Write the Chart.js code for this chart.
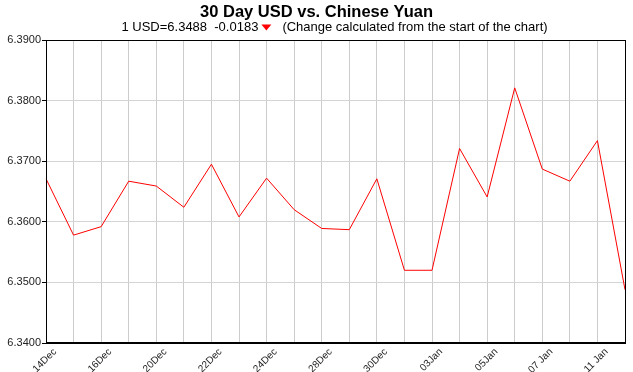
<!doctype html>
<html>
<head>
	<title>30 Day USD vs. Chinese Yuan</title>
	<script src="https://cdn.jsdelivr.net/npm/chart.js@4.4.1"></script>
	<style>
	* { margin: 0; padding: 0; }
	body { background: #fff; }
	.chartBox { width: 633px; height: 372px; position: relative; }
	</style>
</head>
<body>
	<div class="chartBox">
		<canvas id="canvas_rate"></canvas>
	</div>

<script type="text/javascript">
	// ---- data ----
	var dayLabels = [
		'14Dec','15Dec','16Dec','17Dec','20Dec','21Dec','22Dec','23Dec','24Dec','27Dec','28Dec',
		'29Dec','30Dec','31Dec','03Jan','04Jan','05Jan','06Jan','07 Jan','10Jan','11 Jan','12Jan'
	];
	var rates = [
		6.3671, 6.3578, 6.3592, 6.3667, 6.3659, 6.3624, 6.3695, 6.3608, 6.3672, 6.3620, 6.3589,
		6.3587, 6.3671, 6.3520, 6.3520, 6.3721, 6.3641, 6.3821, 6.3687, 6.3667, 6.3734, 6.3488
	];
	var yTicks = [6.34, 6.35, 6.36, 6.37, 6.38, 6.39];

	var titleText = '30 Day USD vs. Chinese Yuan';
	var lastRate = '6.3488';
	var rateChange = '-0.0183';

	var fontFamily = '"Liberation Sans", Arial, "DejaVu Sans", sans-serif';

	// title + subtitle with the little red arrow
	var headerPlugin = {
		id: 'header',
		afterDraw: function(chart) {
			var ctx = chart.ctx;
			var cx = chart.width / 2;
			ctx.save();
			ctx.textBaseline = 'middle';
			ctx.textAlign = 'center';
			ctx.fillStyle = '#000';
			ctx.font = 'bold 16.5px ' + fontFamily;
			ctx.fillText(titleText, cx, 12);

			var p1 = '1 USD=' + lastRate + '  ' + rateChange;
			var p3 = '(Change calculated from the start of the chart)';
			ctx.font = '13px ' + fontFamily;
			var w1 = ctx.measureText(p1).width;
			var w3 = ctx.measureText(p3).width;
			var triW = 10, gapA = 3, gapB = 11;
			// subtitle sits a bit right of centre in the original
			var x = cx + 18 - (w1 + gapA + triW + gapB + w3) / 2;
			ctx.textAlign = 'left';
			ctx.fillText(p1, x, 27);
			// arrow
			var tx = x + w1 + gapA;
			ctx.fillStyle = '#ff0000';
			ctx.beginPath();
			ctx.moveTo(tx, 24.5);
			ctx.lineTo(tx + triW, 24.5);
			ctx.lineTo(tx + triW / 2, 30.5);
			ctx.closePath();
			ctx.fill();
			ctx.fillStyle = '#000';
			ctx.fillText(p3, tx + triW + gapB, 27);
			ctx.restore();
		}
	};

	// black box round the plot
	var framePlugin = {
		id: 'frame',
		afterDraw: function(chart) {
			var a = chart.chartArea, ctx = chart.ctx;
			ctx.save();
			ctx.strokeStyle = '#000';
			ctx.lineWidth = 1;
			ctx.strokeRect(Math.round(a.left) + 0.5, Math.round(a.top) + 0.5,
				Math.round(a.right - a.left), Math.round(a.bottom - a.top) - 1);
			ctx.restore();
		}
	};

	var rate_config = {
		type: 'line',
		data: {
			labels: dayLabels,
			datasets: [{
				label: 'USD/CNY',
				data: rates,
				borderColor: '#ff0000',
				borderWidth: 1,
				pointRadius: 0,
				tension: 0,
				fill: false
			}]
		},
		options: {
			responsive: false,
			animation: false,
			layout: { padding: { top: 40, right: 8, left: 0, bottom: 0 } },
			scales: {
				x: {
					offset: false,
					grid: { color: '#cccccc', drawTicks: false },
					border: { color: '#000' },
					ticks: {
						autoSkip: false,
						minRotation: 45,
						maxRotation: 45,
						padding: 3,
						labelOffset: 9,
						color: '#222',
						font: { size: 10, family: fontFamily },
						callback: function(value, index) {
							return index % 2 === 0 ? dayLabels[index] : '';
						}
					},
					afterFit: function(scale) {
						scale.height = 29;
						scale.paddingLeft = 0;
						scale.paddingRight = 0;
					}
				},
				y: {
					min: 6.34,
					max: 6.39,
					grid: { color: '#d4d4d4', tickLength: 4, tickColor: '#000' },
					border: { color: '#000' },
					afterBuildTicks: function(scale) {
						scale.ticks = yTicks.map(function(v) { return { value: v }; });
					},
					ticks: {
						padding: 1,
						color: '#222',
						font: { size: 11, family: fontFamily },
						callback: function(value) { return Number(value).toFixed(4); }
					},
					afterFit: function(scale) {
						scale.width = 46;
						scale.paddingTop = 0;
						scale.paddingBottom = 0;
					}
				}
			},
			plugins: {
				legend: { display: false },
				tooltip: { enabled: false },
				title: { display: false }
			}
		},
		plugins: [headerPlugin, framePlugin]
	};

	var canvas = document.getElementById('canvas_rate');
	canvas.width = 633;
	canvas.height = 372;
	var rate_Chart = new Chart(canvas, rate_config);
</script>
</body>
</html>
